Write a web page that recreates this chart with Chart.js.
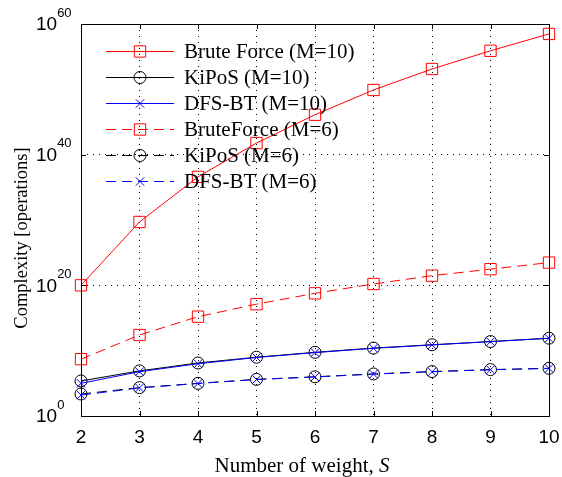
<!DOCTYPE html>
<html>
<head>
<meta charset="utf-8">
<script src="https://cdn.jsdelivr.net/npm/chart.js@4.4.0/dist/chart.umd.min.js"></script>
<style>
  html, body { margin: 0; padding: 0; background: #fff; }
</style>
</head>
<body>
<canvas id="cplxChart" width="562" height="477"></canvas>
<script>
// values (log axis, operations)
let weights = [2, 3, 4, 5, 6, 7, 8, 9, 10];
let bruteForce10 = [1e20, 5e29, 4e36, 6e41, 1.3e46, 8e49, 1.3e53, 8e55, 3e58];
let kipos10      = [2.3e5, 8e6, 1.3e8, 1e9, 5.6e9, 2.5e10, 8e10, 2.5e11, 8e11];
let dfsbt10      = [1e5, 6e6, 1e8, 9e8, 5e9, 2.3e10, 7.5e10, 2.4e11, 7.8e11];
let bruteForce6  = [5e8, 2.5e12, 1.6e15, 1.3e17, 6e18, 1.6e20, 3e21, 3e22, 3e23];
let kipos6       = [2.3e3, 2.2e4, 1e5, 4e5, 1e6, 2.7e6, 6.3e6, 1.26e7, 2e7];
let dfsbt6       = [1.6e3, 2e4, 9.5e4, 3.8e5, 9.5e5, 2.6e6, 6e6, 1.2e7, 1.9e7];

let seriesNames = ['Brute Force (M=10)', 'KiPoS (M=10)', 'DFS-BT (M=10)',
                   'BruteForce (M=6)', 'KiPoS (M=6)', 'DFS-BT (M=6)'];
let yTickValues = [1, 1e20, 1e40, 1e60];
let yTickExps = ['0', '20', '40', '60'];

const RED = '#ff0000', BLACK = '#000000', BLUE = '#0000ff';
const DASH = [10, 6];
const serif = '"Liberation Serif", "Times New Roman", serif';
const sans = '"Liberation Sans", Arial, sans-serif';

let toPoints = (vals) => weights.map((w, i) => ({ x: w, y: vals[i] }));

let makeSet = (name, vals, color, shape, radius, dashed, order) => {
  return {
    label: name,
    data: toPoints(vals),
    borderColor: color,
    backgroundColor: color,
    borderWidth: 1,
    borderDash: dashed ? DASH : [],
    pointStyle: shape,
    pointRadius: radius,
    pointHoverRadius: radius,
    pointBorderColor: color,
    pointBackgroundColor: 'rgba(0,0,0,0)',
    pointBorderWidth: 1,
    tension: 0,
    clip: false,
    order: order
  };
};

let datasets = [
  makeSet(seriesNames[0], bruteForce10, RED, 'rect', 8, false, 4),
  makeSet(seriesNames[1], kipos10, BLACK, 'circle', 6, false, 3),
  makeSet(seriesNames[2], dfsbt10, BLUE, 'crossRot', 6, false, 1),
  makeSet(seriesNames[3], bruteForce6, RED, 'rect', 8, true, 5),
  makeSet(seriesNames[4], kipos6, BLACK, 'circle', 6, true, 2),
  makeSet(seriesNames[5], dfsbt6, BLUE, 'crossRot', 6, true, 0)
];

// frame, inward ticks, y labels with exponents, axis titles and the legend
const decorations = {
  id: 'decorations',
  afterDatasetsDraw(chart) {
    const ctx = chart.ctx;
    const area = chart.chartArea;
    const xs = chart.scales.x, ys = chart.scales.y;

    ctx.save();
    ctx.strokeStyle = BLACK;
    ctx.lineWidth = 1;
    ctx.setLineDash([]);
    ctx.strokeRect(Math.round(area.left) + 0.5, Math.round(area.top) + 0.5,
      Math.round(area.right - area.left), Math.round(area.bottom - area.top));

    ctx.beginPath();
    weights.forEach(w => {
      let px = Math.round(xs.getPixelForValue(w)) + 0.5;
      ctx.moveTo(px, area.bottom); ctx.lineTo(px, area.bottom - 5);
      ctx.moveTo(px, area.top); ctx.lineTo(px, area.top + 5);
    });
    yTickValues.forEach(v => {
      let py = Math.round(ys.getPixelForValue(v)) + 0.5;
      ctx.moveTo(area.left, py); ctx.lineTo(area.left + 5, py);
      ctx.moveTo(area.right, py); ctx.lineTo(area.right - 5, py);
    });
    ctx.stroke();

    // y tick labels 10^n
    ctx.fillStyle = BLACK;
    ctx.textAlign = 'left';
    ctx.textBaseline = 'middle';
    yTickValues.forEach((v, i) => {
      let py = ys.getPixelForValue(v);
      ctx.font = '19px ' + sans;
      ctx.fillText('10', 36, py + 1);
      let w = ctx.measureText('10').width;
      ctx.font = '13px ' + sans;
      ctx.fillText(yTickExps[i], 36 + w, py - 11);
    });

    // y title
    ctx.save();
    ctx.translate(22, 238);
    ctx.rotate(-Math.PI / 2);
    ctx.font = '18.5px ' + serif;
    ctx.textAlign = 'center';
    ctx.fillText('Complexity [operations]', 0, 0);
    ctx.restore();

    // x title, S in italics
    ctx.font = '21px ' + serif;
    let partA = 'Number of weight, ';
    let wa = ctx.measureText(partA).width;
    ctx.font = 'italic 21px ' + serif;
    let wb = ctx.measureText('S').width;
    let startX = 302 - (wa + wb) / 2;
    ctx.textAlign = 'left';
    ctx.font = '21px ' + serif;
    ctx.fillText(partA, startX, 466);
    ctx.font = 'italic 21px ' + serif;
    ctx.fillText('S', startX + wa, 466);

    // legend
    chart.data.datasets.forEach((ds, i) => {
      let ly = 51.5 + i * 26;
      ctx.strokeStyle = ds.borderColor;
      ctx.lineWidth = 1;
      ctx.setLineDash(ds.borderDash);
      ctx.beginPath();
      ctx.moveTo(106, ly); ctx.lineTo(174, ly);
      ctx.stroke();
      ctx.setLineDash([]);
      ctx.fillStyle = 'rgba(0,0,0,0)';
      Chart.helpers.drawPoint(ctx, {
        pointStyle: ds.pointStyle, radius: ds.pointRadius, rotation: 0, borderWidth: 1
      }, 140, ly);
      ctx.fillStyle = BLACK;
      ctx.font = '21px ' + serif;
      ctx.textAlign = 'left';
      ctx.fillText(ds.label, 184, ly + 1);
    });
    ctx.restore();
  }
};

const ctx = document.getElementById('cplxChart').getContext('2d');
const cplxChart = new Chart(ctx, {
  type: 'line',
  data: { datasets: datasets },
  options: {
    responsive: false,
    animation: false,
    layout: { padding: { top: 24, right: 13, left: 0, bottom: 0 } },
    plugins: { legend: { display: false }, tooltip: { enabled: false } },
    scales: {
      x: {
        type: 'linear',
        min: 2, max: 10,
        afterFit: (scale) => { scale.height = 61; scale.paddingLeft = 0; scale.paddingRight = 0; },
        ticks: { stepSize: 1, color: BLACK, font: { family: sans, size: 19 }, padding: 10 },
        grid: { color: BLACK, lineWidth: 1, drawTicks: false },
        border: { display: false, dash: [1, 5] }
      },
      y: {
        type: 'logarithmic',
        min: 1, max: 1e60,
        afterFit: (scale) => { scale.width = 81; scale.paddingTop = 0; scale.paddingBottom = 0; },
        afterBuildTicks: (scale) => { scale.ticks = yTickValues.map(v => ({ value: v })); },
        ticks: { display: false },
        grid: { color: BLACK, lineWidth: 1, drawTicks: false },
        border: { display: false, dash: [1, 5] }
      }
    }
  },
  plugins: [decorations]
});
</script>
</body>
</html>
